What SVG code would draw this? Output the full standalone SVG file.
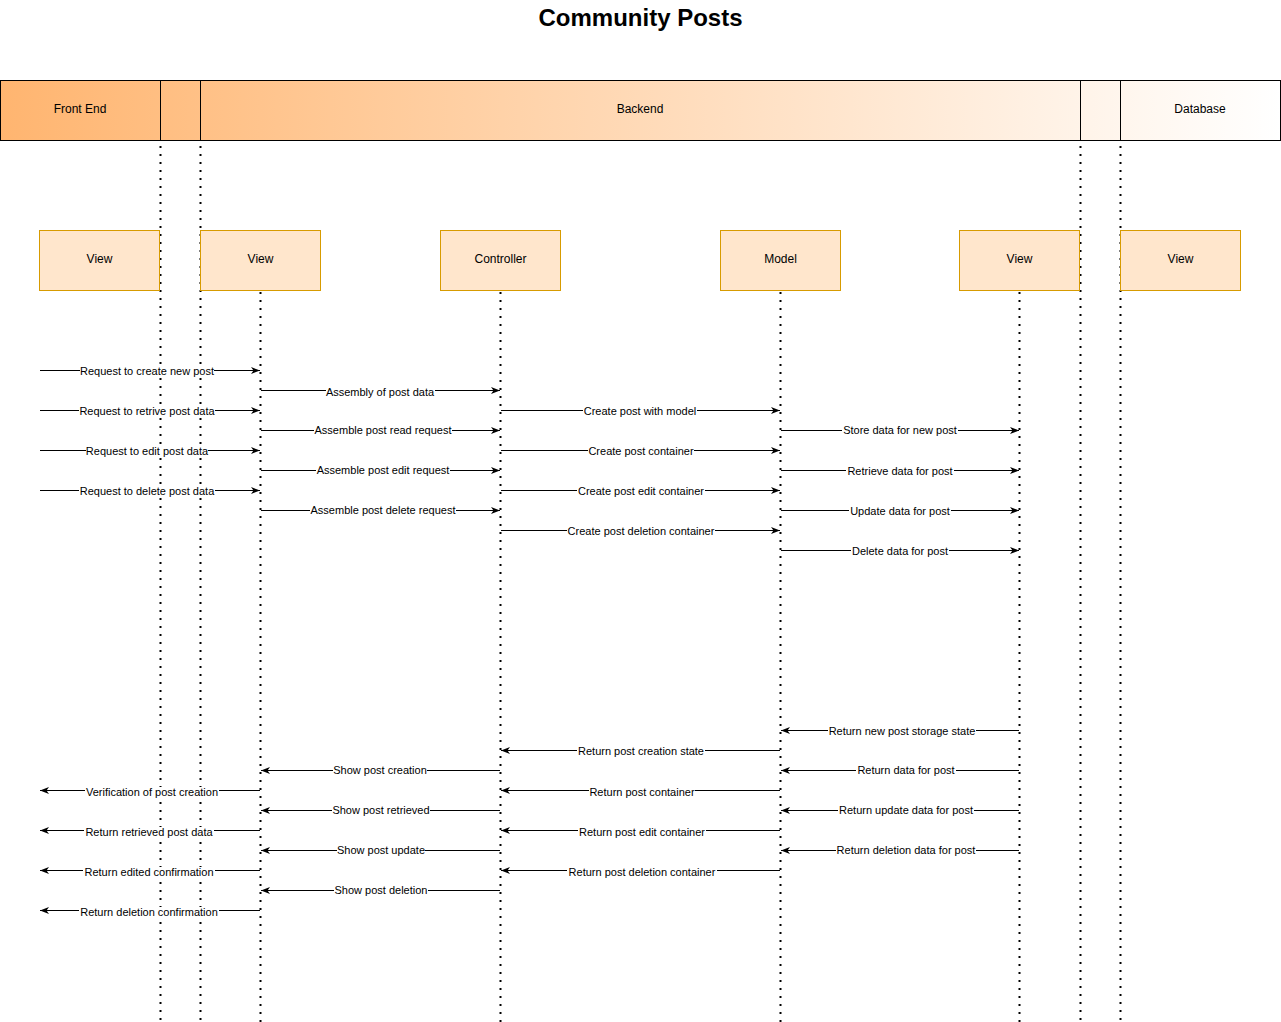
<svg xmlns="http://www.w3.org/2000/svg" width="1281" height="1022" viewBox="0 0 1281 1022">
<defs>
<linearGradient id="hdr" x1="0" y1="0" x2="1" y2="0">
<stop offset="0" stop-color="#FFB570"/>
<stop offset="1" stop-color="#FFFFFF"/>
</linearGradient>
<marker id="ah" viewBox="0 0 10 8" refX="9" refY="4" markerWidth="10" markerHeight="8" markerUnits="userSpaceOnUse" orient="auto">
<path d="M0,0.5 L9,4 L0,7.5 L2.5,4 Z" fill="#000"/>
</marker>
<style>
text{font-family:"Liberation Sans",Arial,sans-serif;fill:#000}
.title{font-size:24px;font-weight:bold}
.hl{font-size:12px}
.box rect{fill:#ffe6cc;stroke:#d79b00;stroke-width:1}
.box text{font-size:12px}
.life line{stroke:#000;stroke-width:2;stroke-dasharray:2 6}
.msg line{stroke:#000;stroke-width:1;marker-end:url(#ah)}
.lbl text{font-size:11px}
.lbl rect{fill:#fff;height:12px}
</style>
</defs>
<rect width="1281" height="1022" fill="#fff"/>
<text class="title" x="640.5" y="26" text-anchor="middle">Community Posts</text>

<g id="header">
<rect x="0.5" y="80.5" width="1280" height="60" fill="url(#hdr)" stroke="#000" stroke-width="1"/>
<line x1="160.5" y1="80" x2="160.5" y2="140" stroke="#000"/>
<line x1="200.5" y1="80" x2="200.5" y2="140" stroke="#000"/>
<line x1="1080.5" y1="80" x2="1080.5" y2="140" stroke="#000"/>
<line x1="1120.5" y1="80" x2="1120.5" y2="140" stroke="#000"/>
<text class="hl" x="80" y="112.5" text-anchor="middle">Front End</text>
<text class="hl" x="640" y="112.5" text-anchor="middle">Backend</text>
<text class="hl" x="1200" y="112.5" text-anchor="middle">Database</text>
</g>

<g id="lifelines" class="life">
<line x1="160.5" y1="146" x2="160.5" y2="1022"/>
<line x1="200.5" y1="146" x2="200.5" y2="1022"/>
<line x1="1080.5" y1="146" x2="1080.5" y2="1022"/>
<line x1="1120.5" y1="146" x2="1120.5" y2="1022"/>
<line x1="260.5" y1="292" x2="260.5" y2="1022"/>
<line x1="500.5" y1="292" x2="500.5" y2="1022"/>
<line x1="780.5" y1="292" x2="780.5" y2="1022"/>
<line x1="1019.5" y1="292" x2="1019.5" y2="1022"/>
</g>

<g id="view1" class="box"><rect x="39.5" y="230.5" width="120" height="60"/><text x="99.5" y="262.5" text-anchor="middle">View</text></g>
<g id="view2" class="box"><rect x="200.5" y="230.5" width="120" height="60"/><text x="260.5" y="262.5" text-anchor="middle">View</text></g>
<g id="controller" class="box"><rect x="440.5" y="230.5" width="120" height="60"/><text x="500.5" y="262.5" text-anchor="middle">Controller</text></g>
<g id="model" class="box"><rect x="720.5" y="230.5" width="120" height="60"/><text x="780.5" y="262.5" text-anchor="middle">Model</text></g>
<g id="view3" class="box"><rect x="959.5" y="230.5" width="120" height="60"/><text x="1019.5" y="262.5" text-anchor="middle">View</text></g>
<g id="view4" class="box"><rect x="1120.5" y="230.5" width="120" height="60"/><text x="1180.5" y="262.5" text-anchor="middle">View</text></g>

<g id="connectors" class="msg">
<line x1="40" y1="370.5" x2="260" y2="370.5"/>
<line x1="261" y1="390.5" x2="500" y2="390.5"/>
<line x1="40" y1="410.5" x2="260" y2="410.5"/>
<line x1="501" y1="410.5" x2="780" y2="410.5"/>
<line x1="261" y1="430.5" x2="500" y2="430.5"/>
<line x1="781" y1="430.5" x2="1019" y2="430.5"/>
<line x1="40" y1="450.5" x2="260" y2="450.5"/>
<line x1="501" y1="450.5" x2="780" y2="450.5"/>
<line x1="261" y1="470.5" x2="500" y2="470.5"/>
<line x1="781" y1="470.5" x2="1019" y2="470.5"/>
<line x1="40" y1="490.5" x2="260" y2="490.5"/>
<line x1="501" y1="490.5" x2="780" y2="490.5"/>
<line x1="261" y1="510.5" x2="500" y2="510.5"/>
<line x1="781" y1="510.5" x2="1019" y2="510.5"/>
<line x1="501" y1="530.5" x2="780" y2="530.5"/>
<line x1="781" y1="550.5" x2="1019" y2="550.5"/>

<line x1="1019" y1="730.5" x2="781" y2="730.5"/>
<line x1="780" y1="750.5" x2="501" y2="750.5"/>
<line x1="500" y1="770.5" x2="261" y2="770.5"/>
<line x1="1019" y1="770.5" x2="781" y2="770.5"/>
<line x1="260" y1="790.5" x2="40" y2="790.5"/>
<line x1="780" y1="790.5" x2="501" y2="790.5"/>
<line x1="500" y1="810.5" x2="261" y2="810.5"/>
<line x1="1019" y1="810.5" x2="781" y2="810.5"/>
<line x1="260" y1="830.5" x2="40" y2="830.5"/>
<line x1="780" y1="830.5" x2="501" y2="830.5"/>
<line x1="500" y1="850.5" x2="261" y2="850.5"/>
<line x1="1019" y1="850.5" x2="781" y2="850.5"/>
<line x1="260" y1="870.5" x2="40" y2="870.5"/>
<line x1="780" y1="870.5" x2="501" y2="870.5"/>
<line x1="500" y1="890.5" x2="261" y2="890.5"/>
<line x1="260" y1="910.5" x2="40" y2="910.5"/>
</g>

<g id="labels" class="lbl" text-anchor="middle">
<rect x="80" y="366" width="134"/><text x="147" y="375">Request to create new post</text>
<rect x="326" y="387" width="109"/><text x="380" y="396">Assembly of post data</text>
<rect x="79" y="406" width="136"/><text x="147" y="415">Request to retrive post data</text>
<rect x="583" y="406" width="114"/><text x="640" y="415">Create post with model</text>
<rect x="314" y="425" width="138"/><text x="383" y="434">Assemble post read request</text>
<rect x="842" y="425" width="116"/><text x="900" y="434">Store data for new post</text>
<rect x="86" y="446" width="122"/><text x="147" y="455">Request to edit post data</text>
<rect x="588" y="446" width="106"/><text x="641" y="455">Create post container</text>
<rect x="316" y="465" width="134"/><text x="383" y="474">Assemble post edit request</text>
<rect x="846" y="466" width="108"/><text x="900" y="475">Retrieve data for post</text>
<rect x="79" y="486" width="136"/><text x="147" y="495">Request to delete post data</text>
<rect x="577" y="486" width="128"/><text x="641" y="495">Create post edit container</text>
<rect x="310" y="505" width="146"/><text x="383" y="514">Assemble post delete request</text>
<rect x="849" y="506" width="102"/><text x="900" y="515">Update data for post</text>
<rect x="567" y="526" width="148"/><text x="641" y="535">Create post deletion container</text>
<rect x="851" y="546" width="98"/><text x="900" y="555">Delete data for post</text>

<rect x="828" y="726" width="148"/><text x="902" y="735">Return new post storage state</text>
<rect x="577" y="746" width="128"/><text x="641" y="755">Return post creation state</text>
<rect x="333" y="765" width="94"/><text x="380" y="774">Show post creation</text>
<rect x="856" y="765" width="100"/><text x="906" y="774">Return data for post</text>
<rect x="85" y="787" width="134"/><text x="152" y="796">Verification of post creation</text>
<rect x="589" y="787" width="106"/><text x="642" y="796">Return post container</text>
<rect x="332" y="805" width="98"/><text x="381" y="814">Show post retrieved</text>
<rect x="838" y="805" width="136"/><text x="906" y="814">Return update data for post</text>
<rect x="84" y="827" width="130"/><text x="149" y="836">Return retrieved post data</text>
<rect x="578" y="827" width="128"/><text x="642" y="836">Return post edit container</text>
<rect x="337" y="845" width="88"/><text x="381" y="854">Show post update</text>
<rect x="836" y="845" width="140"/><text x="906" y="854">Return deletion data for post</text>
<rect x="83" y="867" width="132"/><text x="149" y="876">Return edited confirmation</text>
<rect x="567" y="867" width="150"/><text x="642" y="876">Return post deletion container</text>
<rect x="334" y="885" width="94"/><text x="381" y="894">Show post deletion</text>
<rect x="79" y="907" width="140"/><text x="149" y="916">Return deletion confirmation</text>
</g>
</svg>
